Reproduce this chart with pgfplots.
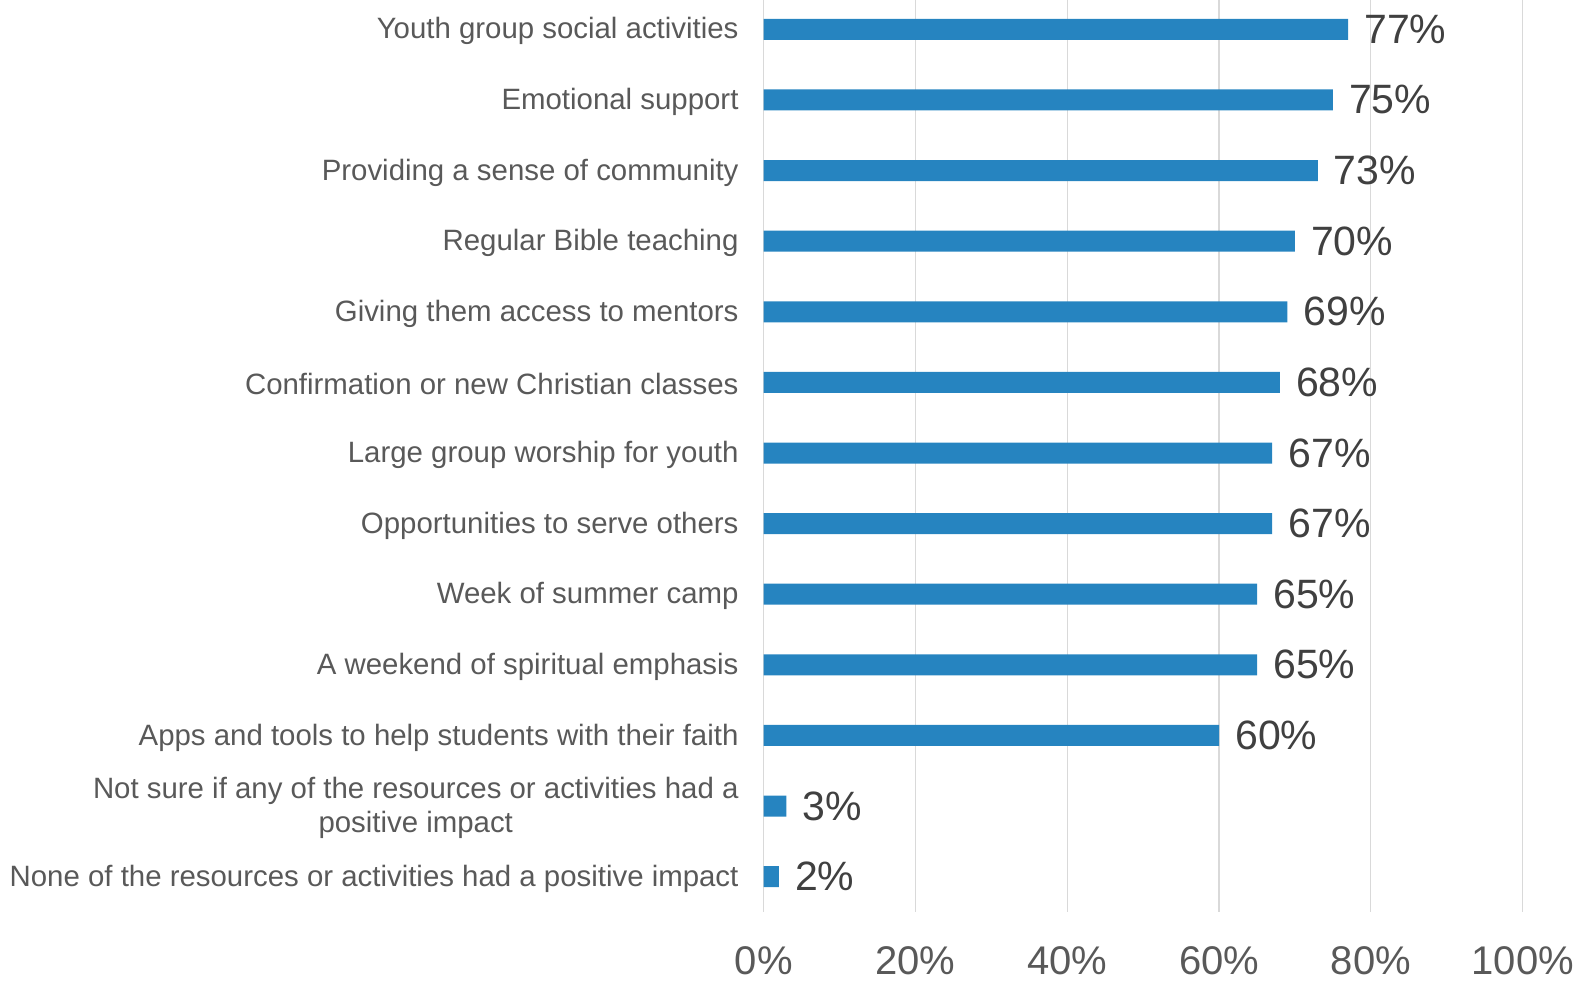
\documentclass[border=0pt]{standalone}
\usepackage{fontspec}
\setmainfont{Liberation Sans}
\usepackage{pgfplots}
\pgfplotsset{compat=1.18}

\definecolor{barblue}{HTML}{2684C0}
\definecolor{labgray}{HTML}{595959}
\definecolor{valgray}{HTML}{404040}
\definecolor{gridgray}{HTML}{D9D9D9}

\begin{document}
\begin{tikzpicture}
  \begin{axis}[
    at={(0,0)}, anchor=south west,
    scale only axis,
    width=759pt, height=918pt,
    xbar, bar width=21pt,
    xmin=0, xmax=100,
    ymin=-0.5, ymax=12.5,
    y dir=reverse,
    axis line style={draw=none},
    major tick length=0pt,
    xmajorgrids, major grid style={gridgray, line width=1.2pt},
    xtick={0,20,...,100},
    xticklabels={0\%,20\%,40\%,60\%,80\%,100\%},
    xticklabel style={font=\fontsize{40}{48}\selectfont, text=labgray, anchor=north, inner sep=0pt, yshift=-34pt},
    ytick={0,...,12},
    yticklabels={
      Youth group social activities,
      Emotional support,
      Providing a sense of community,
      Regular Bible teaching,
      Giving them access to mentors,
      Confirmation or new Christian classes,
      Large group worship for youth,
      Opportunities to serve others,
      Week of summer camp,
      A weekend of spiritual emphasis,
      Apps and tools to help students with their faith,
      {Not sure if any of the resources or activities had a\\positive impact},
      None of the resources or activities had a positive impact},
    yticklabel style={font=\fontsize{29.4}{34}\selectfont, text=labgray, align=center, anchor=east, inner sep=0pt, xshift=-25pt, yshift=-2pt},
    point meta=x,
    /pgf/number format/assume math mode=true,
    nodes near coords={\pgfmathprintnumber{\pgfplotspointmeta}\%},
    every node near coord/.append style={font=\fontsize{41}{48}\selectfont, text=valgray, anchor=west, inner sep=0pt, xshift=16pt},
    clip=false,
  ]
    \addplot[fill=barblue, draw=none] coordinates {
      (77,0) (75,1) (73,2) (70,3) (69,4) (68,5) (67,6)
      (67,7) (65,8) (65,9) (60,10) (3,11) (2,12)
    };
  \end{axis}
  \pgfresetboundingbox
  \useasboundingbox (-763.7pt,-69pt) rectangle (815.3pt,912pt);
\end{tikzpicture}
\end{document}
